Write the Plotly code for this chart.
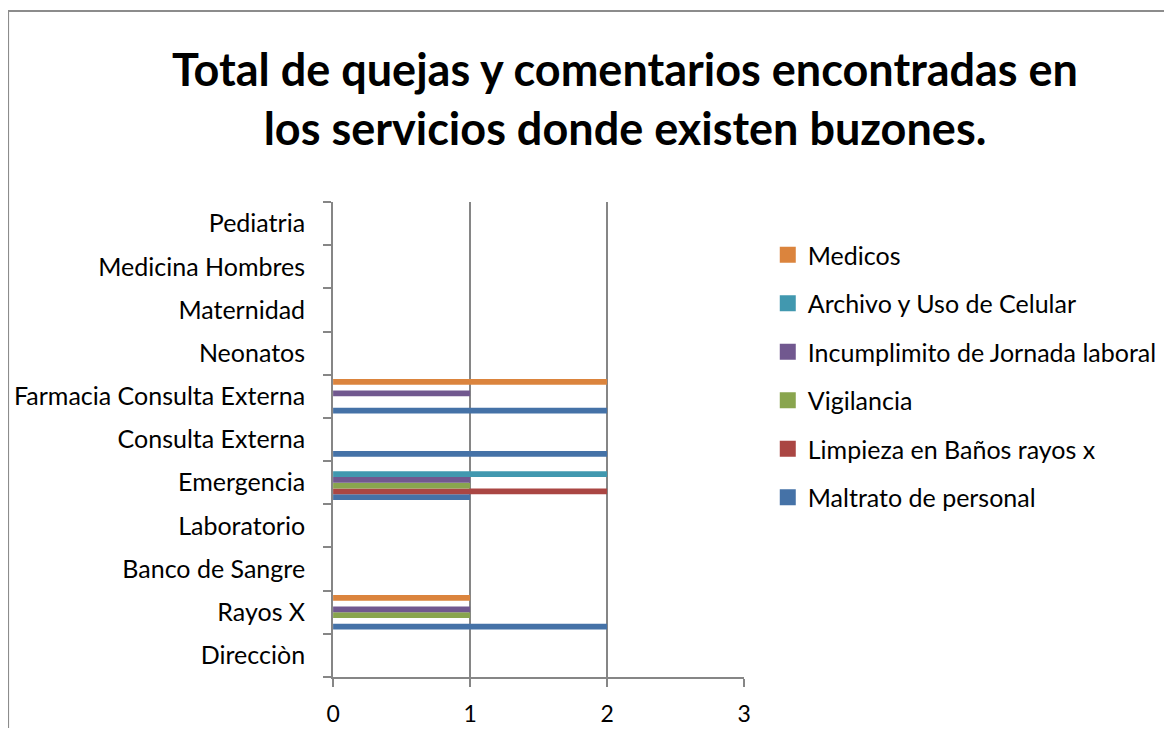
import plotly.graph_objects as go

# page body has an 8px margin, so the figure is drawn 16px smaller than the window
OFF = 8
W, H = 1172 - 2 * OFF, 736 - 2 * OFF

categories = ["Direcciòn", "Rayos X", "Banco de Sangre", "Laboratorio", "Emergencia",
              "Consulta Externa", "Farmacia Consulta Externa", "Neonatos", "Maternidad",
              "Medicina Hombres", "Pediatria"]

series_names = ["Maltrato de personal", "Limpieza en Baños rayos x", "Vigilancia",
                "Incumplimito de Jornada laboral", "Archivo y Uso de Celular", "Medicos"]

maltrato =       [0, 2, 0, 0, 1, 2, 2, 0, 0, 0, 0]
limpieza =       [0, 0, 0, 0, 2, 0, 0, 0, 0, 0, 0]
vigilancia =     [0, 1, 0, 0, 1, 0, 0, 0, 0, 0, 0]
incumplimiento = [0, 1, 0, 0, 1, 0, 1, 0, 0, 0, 0]
archivo =        [0, 0, 0, 0, 2, 0, 0, 0, 0, 0, 0]
medicos =        [0, 1, 0, 0, 0, 0, 2, 0, 0, 0, 0]

values = [maltrato, limpieza, vigilancia, incumplimiento, archivo, medicos]
colors = ["#4572A7", "#AA4643", "#89A54E", "#71588F", "#4198AF", "#DB843D"]

x_ticks = [0, 1, 2, 3]

FONT = "Lato"
AX = "#868686"


def px_x(p):
    return (p - OFF) / W


def px_y(p):
    return 1 - (p - OFF) / H


fig = go.Figure()
n = len(series_names)
for i, (name, vals, col) in enumerate(zip(series_names, values, colors)):
    fig.add_trace(go.Bar(
        y=categories, x=vals, name=name, orientation="h",
        marker=dict(color=col, line=dict(width=0)),
        showlegend=False, legendgroup=f"g{i}",
    ))
    # legend entry with a square swatch
    fig.add_trace(go.Scatter(
        x=[None], y=[None], mode="markers", name=name,
        marker=dict(symbol="square", size=16, color=col),
        legendgroup=f"g{i}", legendrank=n - i, showlegend=True,
        hoverinfo="skip",
    ))

fig.update_layout(
    width=W, height=H,
    margin=dict(l=0, r=0, t=0, b=0),
    paper_bgcolor="white", plot_bgcolor="white",
    barmode="group", bargap=0.2, bargroupgap=0,
    font=dict(family=FONT, size=25, color="black"),
    xaxis=dict(
        domain=[px_x(330), px_x(746)],
        range=[0, 3], tickvals=x_ticks, ticktext=[str(v) for v in x_ticks],
        showgrid=True, gridcolor=AX, gridwidth=2,
        showline=True, linecolor=AX, linewidth=2,
        ticks="outside", ticklen=8, tickwidth=2, tickcolor=AX,
        zeroline=False, fixedrange=True,
        tickfont=dict(size=23),
        ticklabelstandoff=7,
    ),
    yaxis=dict(
        domain=[px_y(677), px_y(202)],
        categoryorder="array", categoryarray=categories,
        showline=True, linecolor=AX, linewidth=2,
        ticks="outside", ticklen=8, tickwidth=2, tickcolor=AX,
        tickson="boundaries", showgrid=False, zeroline=False,
        tickfont=dict(size=25),
        ticklabelstandoff=21,
    ),
    legend=dict(
        x=px_x(770), y=px_y(232), xanchor="left", yanchor="top",
        traceorder="grouped", tracegroupgap=13,
        font=dict(size=25), bgcolor="rgba(0,0,0,0)",
        itemsizing="trace",
    ),
    title=dict(
        text="Total de quejas y comentarios encontradas en<br>los servicios donde existen buzones.",
        x=px_x(625), xanchor="center", y=px_y(86), yanchor="top",
        font=dict(family=FONT, size=45, color="black", weight="bold"),
    ),
    showlegend=True,
)

fig.add_shape(type="rect", xref="paper", yref="paper",
              x0=px_x(1), x1=1.05, y0=-0.05, y1=px_y(11),
              line=dict(color="#8C8C8C", width=2), fillcolor="rgba(0,0,0,0)", layer="below")

fig.write_html("out.html")
